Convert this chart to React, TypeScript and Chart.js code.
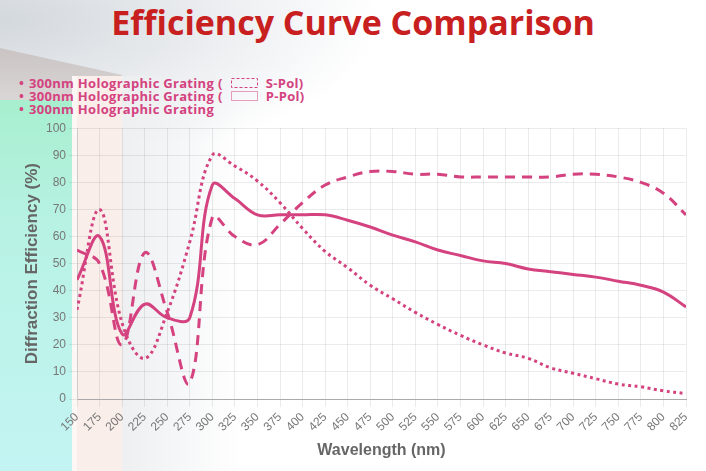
import { useEffect, useRef } from "react"
import { Chart, type ChartConfiguration, registerables } from "chart.js"

Chart.register(...registerables)

const wavelengths = [150, 175, 200, 225, 250, 275, 300, 325, 350, 375, 400, 425, 450, 475, 500, 525, 550, 575, 600, 625, 650, 675, 700, 725, 750, 775, 800, 825]

// S-Pol (dashed)
const sPol = [55, 50, 20, 54, 32, 6, 67, 60, 57, 64.5, 72.5, 79, 82, 84, 84, 83, 83, 82, 82, 82, 82, 82, 83, 83, 82, 80, 76, 68]
// P-Pol (dotted)
const pPol = [33, 70, 28, 15, 32, 58, 90, 86, 80.5, 72.5, 63, 54.5, 48.5, 42, 37, 32, 27.5, 23.5, 20, 17, 15, 11.5, 9.5, 7.5, 5.5, 4.5, 3, 2]
// unpolarized (solid)
const unpol = [44, 60, 24, 35, 30, 30, 79, 74, 68, 68, 68, 68, 66, 63.5, 60.5, 58, 55, 53, 51, 50, 48, 47, 46, 45, 43.5, 42, 39.5, 34]

const seriesLabel = "300nm Holographic Grating"
const pink = "#d4427f"

const toPoints = (vals: number[]) => wavelengths.map((w, i) => ({ x: w, y: vals[i] }))

function EfficiencyChart() {
  const chartRef = useRef<HTMLCanvasElement>(null)
  const chartInstance = useRef<Chart | null>(null)

  useEffect(() => {
    if (!chartRef.current) return
    const ctx = chartRef.current.getContext("2d")
    if (!ctx) return
    if (chartInstance.current) chartInstance.current.destroy()

    const common = {
      borderColor: pink,
      backgroundColor: pink,
      borderWidth: 3,
      pointRadius: 0,
      tension: 0.4,
      fill: false,
    }

    const config: ChartConfiguration<"line", { x: number; y: number }[]> = {
      type: "line",
      data: {
        datasets: [
          { ...common, label: seriesLabel + " (S-Pol)", data: toPoints(sPol), borderDash: [10, 7] },
          { ...common, label: seriesLabel + " (P-Pol)", data: toPoints(pPol), borderDash: [3, 3.5] },
          { ...common, label: seriesLabel, data: toPoints(unpol) },
        ],
      },
      options: {
        animation: false,
        responsive: false,
        maintainAspectRatio: false,
        layout: { padding: { top: 10, right: 20, left: 0, bottom: 0 } },
        scales: {
          x: {
            type: "linear",
            min: 150,
            max: 825,
            afterFit: (s: any) => {
              s.height = 72
            },
            ticks: {
              stepSize: 25,
              autoSkip: false,
              maxRotation: 45,
              minRotation: 45,
              color: "#777",
              font: { family: "'Liberation Sans', Arial, sans-serif", size: 12 },
            },
            grid: { color: "rgba(0,0,0,0.08)" },
            border: { color: "#aaa" },
            title: {
              display: true,
              text: "Wavelength (nm)",
              color: "#666",
              font: { family: "'Liberation Sans', Arial, sans-serif", size: 16, weight: "bold" },
              padding: { top: 4, bottom: 11 },
            },
          },
          y: {
            min: 0,
            max: 100,
            afterFit: (s: any) => {
              s.width = 77
            },
            ticks: {
              stepSize: 10,
              color: "#777",
              font: { family: "'Liberation Sans', Arial, sans-serif", size: 12 },
            },
            grid: { color: "rgba(0,0,0,0.08)" },
            border: { color: "#ccc" },
            title: {
              display: true,
              text: "Diffraction Efficiency (%)",
              color: "#666",
              font: { family: "'Liberation Sans', Arial, sans-serif", size: 17, weight: "bold" },
              padding: { top: 22, bottom: 4 },
            },
          },
        },
        plugins: {
          legend: { display: false },
          tooltip: { enabled: false },
        },
      },
    }

    chartInstance.current = new Chart(ctx, config)
    return () => {
      if (chartInstance.current) chartInstance.current.destroy()
      chartInstance.current = null
    }
  }, [])

  return <canvas ref={chartRef} width={706} height={353} style={{ position: "absolute", left: 0, top: 118, width: 706, height: 353 }} />
}

function LegendRow({ text, pattern }: { text: string; pattern?: "dashed" | "dotted" }) {
  return (
    <div style={{ display: "flex", alignItems: "center", height: 13.3, whiteSpace: "nowrap" }}>
      <span style={{ width: 10 }}>•</span>
      <span>{text}</span>
      {pattern && (
        <>
          <span style={{ marginLeft: 4 }}>(</span>
          <svg width={27} height={10} style={{ margin: "0 8px" }}>
            <rect
              x={0.5}
              y={0.5}
              width={26}
              height={9}
              fill="none"
              stroke={pink}
              strokeWidth={1}
              strokeDasharray={pattern === "dashed" ? "3 2" : "1 1"}
            />
          </svg>
          <span>{pattern === "dashed" ? "S-Pol)" : "P-Pol)"}</span>
        </>
      )}
    </div>
  )
}

export default function App() {
  const layer = (style: React.CSSProperties) => <div style={{ position: "absolute", ...style }} />
  return (
    <div style={{ position: "fixed", left: 0, top: 0, width: 706, height: 471, overflow: "hidden", background: "#fff" }}>
      {layer({ left: 0, top: 0, width: 706, height: 140, background: "radial-gradient(ellipse 380px 150px at 0px 20px, #d3d8dd 0%, #e6e9ec 45%, rgba(255,255,255,0) 100%)" })}
      {layer({ left: 0, top: 48, width: 122, height: 60, background: "linear-gradient(180deg, #c9c4c3, #ddd9d8)", clipPath: "polygon(0 0, 100% 45%, 100% 100%, 0 100%)" })}
      {layer({ left: 0, top: 100, width: 72, height: 371, background: "linear-gradient(180deg, #a7efcf 0%, #b8f2e4 35%, #c3f4f3 100%)" })}
      {layer({ left: 72, top: 76, width: 5, height: 395, background: "#fcf7f5" })}
      {layer({ left: 77, top: 76, width: 45, height: 395, background: "#f9eeea" })}
      {layer({ left: 122, top: 76, width: 120, height: 395, background: "linear-gradient(90deg, #edeff1, rgba(255,255,255,0))" })}
      <div
        style={{
          position: "absolute",
          left: 0,
          top: 0,
          width: 706,
          textAlign: "center",
          fontFamily: "'Open Sans', sans-serif",
          fontWeight: 700,
          fontSize: 34,
          lineHeight: "44px",
          color: "#c8201f",
        }}
      >
        Efficiency Curve Comparison
      </div>
      <div
        style={{
          position: "absolute",
          left: 19,
          top: 76,
          fontFamily: "'Open Sans', sans-serif",
          fontWeight: 700,
          fontSize: 13,
          letterSpacing: 0.3,
          color: pink,
        }}
      >
        <LegendRow text={seriesLabel} pattern="dashed" />
        <LegendRow text={seriesLabel} pattern="dotted" />
        <LegendRow text={seriesLabel} />
      </div>
      <EfficiencyChart />
    </div>
  )
}
